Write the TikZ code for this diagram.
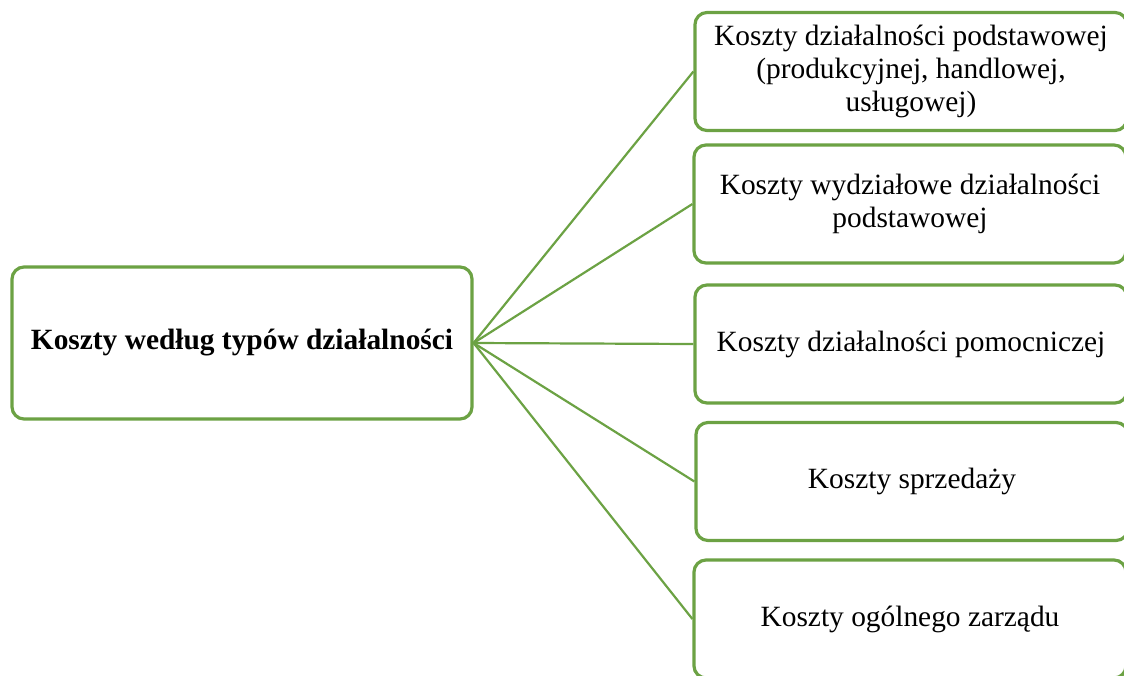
\documentclass[tikz,border=0pt]{standalone}
\usepackage{fontspec}
\setmainfont{Liberation Serif}
\usetikzlibrary{positioning}
\definecolor{kgreen}{RGB}{108,162,68}
\tikzset{
  kbox/.style={draw=kgreen, line width=1.6pt, rounded corners=6pt, fill=white,
    align=center, minimum width=216pt, minimum height=59pt, inner sep=2pt,
    font=\fontsize{14.7}{16.3}\selectfont},
  klink/.style={draw=kgreen, line width=1.1pt}
}

\begin{document}
\begin{tikzpicture}[x=0.5pt,y=-0.5pt]
\useasboundingbox (0,0) rectangle (1124,675);
\node[kbox, minimum width=230pt, minimum height=76pt, font=\fontsize{14.7}{16.3}\selectfont\bfseries] (main) at (242,343) {Koszty według typów działalności};
\node[kbox] (t1) at (911,71.5) {Koszty działalności podstawowej\\(produkcyjnej, handlowej,\\usługowej)};
\node[kbox] (t2) at (910,204) {Koszty wydziałowe działalności\\podstawowej};
\node[kbox] (t3) at (911,344) {Koszty działalności pomocniczej};
\node[kbox] (t4) at (912,481.5) {Koszty sprzedaży};
\node[kbox] (t5) at (910,619) {Koszty ogólnego zarządu};
\draw[klink] (main.east) -- (t1.west);
\draw[klink] (main.east) -- (t2.west);
\draw[klink] (main.east) -- (t3.west);
\draw[klink] (main.east) -- (t4.west);
\draw[klink] (main.east) -- (t5.west);
\end{tikzpicture}
\end{document}
